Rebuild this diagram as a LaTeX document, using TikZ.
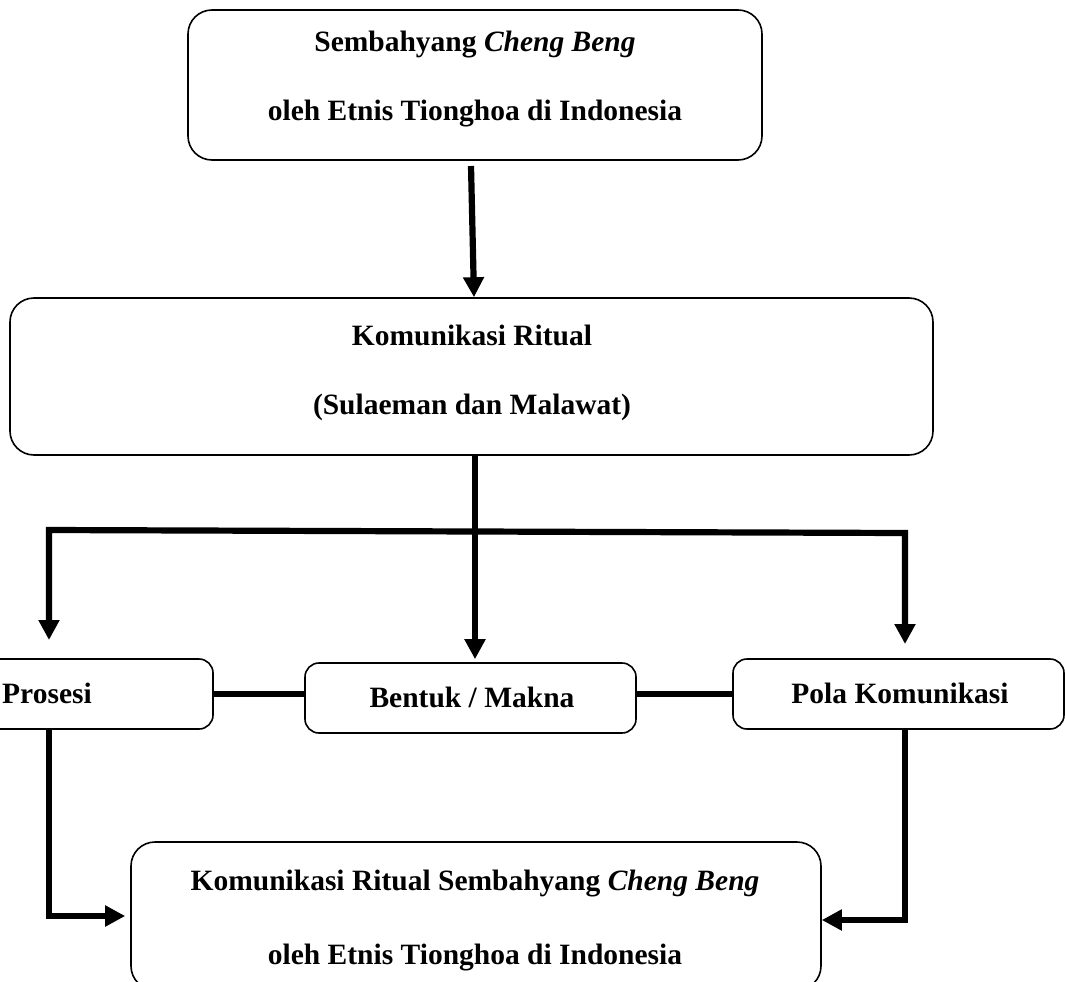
\documentclass[tikz,border=0pt]{standalone}
\usepackage{fontspec}
\setmainfont{Liberation Serif}
\usetikzlibrary{arrows.meta}
\begin{document}
\begin{tikzpicture}[x=1pt,y=-1pt,
  box/.style={draw, line width=1.6pt, rounded corners=24pt, inner sep=0pt},
  smallbox/.style={draw, line width=1.6pt, rounded corners=14pt, inner sep=0pt},
  txt/.style={font=\fontsize{29.5}{34}\selectfont\bfseries, inner sep=0pt, anchor=base},
  conn/.style={line width=6.2pt},
  tip/.tip={Triangle[width=20pt,length=20pt]},
  arr/.style={conn, -tip}]
\useasboundingbox (0,0) rectangle (1065,982);

% boxes
\node[box, minimum width=574pt, minimum height=150pt] (top) at (475,85) {};
\node[txt] (t1) at (475,52) {Sembahyang \textit{Cheng Beng}};
\node[txt] (t2) at (475,120) {oleh Etnis Tionghoa di Indonesia};

\node[box, minimum width=923pt, minimum height=157pt] (kr) at (471.5,376.5) {};
\node[txt] (k1) at (472,345) {Komunikasi Ritual};
\node[txt] (k2) at (472,414) {(Sulaeman dan Malawat)};

\node[smallbox, minimum width=260pt, minimum height=70pt] (pro) at (83,694) {};
\node[txt] (p1) at (47,703) {Prosesi};

\node[smallbox, minimum width=331pt, minimum height=70pt] (ben) at (470.5,698) {};
\node[txt] (b1) at (472,707) {Bentuk / Makna};

\node[smallbox, minimum width=331pt, minimum height=70pt] (pol) at (898.5,694) {};
\node[txt] (o1) at (900,703) {Pola Komunikasi};

\node[box, minimum width=690pt, minimum height=148pt] (bot) at (476,916) {};
\node[txt] (m1) at (475,890) {Komunikasi Ritual Sembahyang \textit{Cheng Beng}};
\node[txt] (m2) at (475,964) {oleh Etnis Tionghoa di Indonesia};

% coordinates
\coordinate (ta) at (471,166);
\coordinate (jl) at (49,530);
\coordinate (jr) at (905,533);
\coordinate (jm) at (475,531);
\coordinate (pl) at (49,640);
\coordinate (pr) at (905,644);
\coordinate (be) at ([yshift=-4pt]bot.east);

% connectors
\draw[arr] (ta) -- (kr.north -| 474,0);
\draw[arr, shorten >=3pt] (kr.south -| jm) -- (ben.north -| jm);
\draw[conn, tip-tip] (pl) -- (jl) -- (jr) -- (pr);
\draw[conn] (pro.east) -- (pro.east -| ben.west);
\draw[conn] (pol.west -| ben.east) -- (pol.west);
\draw[arr, shorten >=5pt] (pro.south -| jl) -- (jl |- bot.west) -- (bot.west);
\draw[arr] (pol.south -| jr) -- (jr |- be) -- (be);
\end{tikzpicture}
\end{document}
